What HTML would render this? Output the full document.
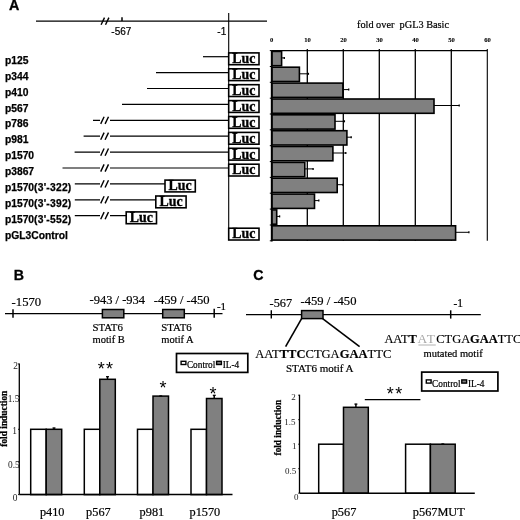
<!DOCTYPE html>
<html><head><meta charset="utf-8"><title>Figure</title>
<style>html,body{margin:0;padding:0;background:#fff;}svg{display:block;}.s{font-family:"Liberation Sans", Arial, sans-serif;}.t{font-family:"Liberation Serif", "Times New Roman", serif;}.b{font-weight:bold;}</style></head><body>
<svg width="520" height="520" viewBox="0 0 520 520">
<rect width="520" height="520" fill="#fff"/>
<text x="9.1" y="10.4" class="s b" font-size="14.30" text-anchor="start" fill="#000" stroke="#000" stroke-width="0.30" >A</text>
<line x1="36.0" y1="21.1" x2="267.0" y2="21.1" stroke="#000" stroke-width="1.25"/>
<line x1="101.1" y1="24.8" x2="104.5" y2="17.6" stroke="#000" stroke-width="1.40"/>
<line x1="105.5" y1="24.8" x2="108.9" y2="17.6" stroke="#000" stroke-width="1.40"/>
<line x1="122.0" y1="17.2" x2="122.0" y2="21.0" stroke="#000" stroke-width="1.50"/>
<text x="111.3" y="34.6" class="s" font-size="10.00" text-anchor="start" fill="#000" stroke="#000" stroke-width="0.20" >-567</text>
<text x="217.3" y="34.6" class="s" font-size="10.00" text-anchor="start" fill="#000" stroke="#000" stroke-width="0.20" >-1</text>
<line x1="228.7" y1="13.0" x2="228.7" y2="240.0" stroke="#000" stroke-width="1.10"/>
<text x="4.9" y="63.8" class="s b" font-size="10.30" text-anchor="start" fill="#000" stroke="#000" stroke-width="0.25" >p125</text>
<line x1="203.0" y1="56.7" x2="228.7" y2="56.7" stroke="#000" stroke-width="1.20"/>
<rect x="228.7" y="52.9" width="30.3" height="11.8" fill="#fff" stroke="#000" stroke-width="1.60"/>
<text x="243.9" y="63.1" class="t b" font-size="13.90" text-anchor="middle" fill="#000" stroke="#000" stroke-width="0.30" >Luc</text>
<text x="4.9" y="79.7" class="s b" font-size="10.30" text-anchor="start" fill="#000" stroke="#000" stroke-width="0.25" >p344</text>
<line x1="156.0" y1="72.6" x2="228.7" y2="72.6" stroke="#000" stroke-width="1.20"/>
<rect x="228.7" y="68.8" width="30.3" height="11.8" fill="#fff" stroke="#000" stroke-width="1.60"/>
<text x="243.9" y="79.0" class="t b" font-size="13.90" text-anchor="middle" fill="#000" stroke="#000" stroke-width="0.30" >Luc</text>
<text x="4.9" y="95.6" class="s b" font-size="10.30" text-anchor="start" fill="#000" stroke="#000" stroke-width="0.25" >p410</text>
<line x1="147.0" y1="88.5" x2="228.7" y2="88.5" stroke="#000" stroke-width="1.20"/>
<rect x="228.7" y="84.7" width="30.3" height="11.8" fill="#fff" stroke="#000" stroke-width="1.60"/>
<text x="243.9" y="94.9" class="t b" font-size="13.90" text-anchor="middle" fill="#000" stroke="#000" stroke-width="0.30" >Luc</text>
<text x="4.9" y="111.5" class="s b" font-size="10.30" text-anchor="start" fill="#000" stroke="#000" stroke-width="0.25" >p567</text>
<line x1="122.0" y1="104.4" x2="228.7" y2="104.4" stroke="#000" stroke-width="1.20"/>
<rect x="228.7" y="100.6" width="30.3" height="11.8" fill="#fff" stroke="#000" stroke-width="1.60"/>
<text x="243.9" y="110.8" class="t b" font-size="13.90" text-anchor="middle" fill="#000" stroke="#000" stroke-width="0.30" >Luc</text>
<text x="4.9" y="127.4" class="s b" font-size="10.30" text-anchor="start" fill="#000" stroke="#000" stroke-width="0.25" >p786</text>
<line x1="93.0" y1="120.3" x2="228.7" y2="120.3" stroke="#000" stroke-width="1.20"/>
<rect x="100" y="118.8" width="10" height="3" fill="#fff"/>
<line x1="100.7" y1="123.9" x2="104.1" y2="116.7" stroke="#000" stroke-width="1.40"/>
<line x1="105.1" y1="123.9" x2="108.5" y2="116.7" stroke="#000" stroke-width="1.40"/>
<rect x="228.7" y="116.5" width="30.3" height="11.8" fill="#fff" stroke="#000" stroke-width="1.60"/>
<text x="243.9" y="126.7" class="t b" font-size="13.90" text-anchor="middle" fill="#000" stroke="#000" stroke-width="0.30" >Luc</text>
<text x="4.9" y="143.3" class="s b" font-size="10.30" text-anchor="start" fill="#000" stroke="#000" stroke-width="0.25" >p981</text>
<line x1="83.6" y1="136.2" x2="228.7" y2="136.2" stroke="#000" stroke-width="1.20"/>
<rect x="100" y="134.7" width="10" height="3" fill="#fff"/>
<line x1="100.7" y1="139.8" x2="104.1" y2="132.6" stroke="#000" stroke-width="1.40"/>
<line x1="105.1" y1="139.8" x2="108.5" y2="132.6" stroke="#000" stroke-width="1.40"/>
<rect x="228.7" y="132.4" width="30.3" height="11.8" fill="#fff" stroke="#000" stroke-width="1.60"/>
<text x="243.9" y="142.6" class="t b" font-size="13.90" text-anchor="middle" fill="#000" stroke="#000" stroke-width="0.30" >Luc</text>
<text x="4.9" y="159.2" class="s b" font-size="10.30" text-anchor="start" fill="#000" stroke="#000" stroke-width="0.25" >p1570</text>
<line x1="74.6" y1="152.1" x2="228.7" y2="152.1" stroke="#000" stroke-width="1.20"/>
<rect x="100" y="150.6" width="10" height="3" fill="#fff"/>
<line x1="100.7" y1="155.7" x2="104.1" y2="148.5" stroke="#000" stroke-width="1.40"/>
<line x1="105.1" y1="155.7" x2="108.5" y2="148.5" stroke="#000" stroke-width="1.40"/>
<rect x="228.7" y="148.3" width="30.3" height="11.8" fill="#fff" stroke="#000" stroke-width="1.60"/>
<text x="243.9" y="158.5" class="t b" font-size="13.90" text-anchor="middle" fill="#000" stroke="#000" stroke-width="0.30" >Luc</text>
<text x="4.9" y="175.1" class="s b" font-size="10.30" text-anchor="start" fill="#000" stroke="#000" stroke-width="0.25" >p3867</text>
<line x1="62.5" y1="168.0" x2="228.7" y2="168.0" stroke="#000" stroke-width="1.20"/>
<rect x="100" y="166.5" width="10" height="3" fill="#fff"/>
<line x1="100.7" y1="171.6" x2="104.1" y2="164.4" stroke="#000" stroke-width="1.40"/>
<line x1="105.1" y1="171.6" x2="108.5" y2="164.4" stroke="#000" stroke-width="1.40"/>
<rect x="228.7" y="164.2" width="30.3" height="11.8" fill="#fff" stroke="#000" stroke-width="1.60"/>
<text x="243.9" y="174.4" class="t b" font-size="13.90" text-anchor="middle" fill="#000" stroke="#000" stroke-width="0.30" >Luc</text>
<text x="4.9" y="191.0" class="s b" font-size="10.30" text-anchor="start" fill="#000" stroke="#000" stroke-width="0.25" >p1570<tspan letter-spacing="0.22">(3'-322)</tspan></text>
<line x1="74.8" y1="183.9" x2="165.0" y2="183.9" stroke="#000" stroke-width="1.20"/>
<rect x="100" y="182.4" width="10" height="3" fill="#fff"/>
<line x1="100.7" y1="187.5" x2="104.1" y2="180.3" stroke="#000" stroke-width="1.40"/>
<line x1="105.1" y1="187.5" x2="108.5" y2="180.3" stroke="#000" stroke-width="1.40"/>
<rect x="165.0" y="180.1" width="30.3" height="11.8" fill="#fff" stroke="#000" stroke-width="1.60"/>
<text x="180.2" y="190.3" class="t b" font-size="13.90" text-anchor="middle" fill="#000" stroke="#000" stroke-width="0.30" >Luc</text>
<text x="4.9" y="206.9" class="s b" font-size="10.30" text-anchor="start" fill="#000" stroke="#000" stroke-width="0.25" >p1570<tspan letter-spacing="0.22">(3'-392)</tspan></text>
<line x1="74.8" y1="199.8" x2="155.8" y2="199.8" stroke="#000" stroke-width="1.20"/>
<rect x="100" y="198.3" width="10" height="3" fill="#fff"/>
<line x1="100.7" y1="203.4" x2="104.1" y2="196.2" stroke="#000" stroke-width="1.40"/>
<line x1="105.1" y1="203.4" x2="108.5" y2="196.2" stroke="#000" stroke-width="1.40"/>
<rect x="155.8" y="196.0" width="30.3" height="11.8" fill="#fff" stroke="#000" stroke-width="1.60"/>
<text x="171.0" y="206.2" class="t b" font-size="13.90" text-anchor="middle" fill="#000" stroke="#000" stroke-width="0.30" >Luc</text>
<text x="4.9" y="222.8" class="s b" font-size="10.30" text-anchor="start" fill="#000" stroke="#000" stroke-width="0.25" >p1570<tspan letter-spacing="0.22">(3'-552)</tspan></text>
<line x1="74.8" y1="215.7" x2="126.2" y2="215.7" stroke="#000" stroke-width="1.20"/>
<rect x="100" y="214.2" width="10" height="3" fill="#fff"/>
<line x1="100.7" y1="219.3" x2="104.1" y2="212.1" stroke="#000" stroke-width="1.40"/>
<line x1="105.1" y1="219.3" x2="108.5" y2="212.1" stroke="#000" stroke-width="1.40"/>
<rect x="126.2" y="211.9" width="30.3" height="11.8" fill="#fff" stroke="#000" stroke-width="1.60"/>
<text x="141.4" y="222.1" class="t b" font-size="13.90" text-anchor="middle" fill="#000" stroke="#000" stroke-width="0.30" >Luc</text>
<text x="4.9" y="238.7" class="s b" font-size="10.30" text-anchor="start" fill="#000" stroke="#000" stroke-width="0.25" >pGL3Control</text>
<rect x="228.7" y="228.2" width="30.3" height="11.8" fill="#fff" stroke="#000" stroke-width="1.60"/>
<text x="243.9" y="238.4" class="t b" font-size="13.90" text-anchor="middle" fill="#000" stroke="#000" stroke-width="0.30" >Luc</text>
<text x="403.0" y="28.3" class="t" font-size="10.30" text-anchor="middle" fill="#000" stroke="#000" stroke-width="0.20" >fold over  pGL3 Basic</text>
<text x="271.6" y="42.1" class="t b" font-size="6.60" text-anchor="middle" fill="#000" stroke="#000" stroke-width="0.10" >0</text>
<line x1="307.3" y1="49.1" x2="307.3" y2="240.8" stroke="#000" stroke-width="1.30"/>
<text x="307.6" y="42.1" class="t b" font-size="6.60" text-anchor="middle" fill="#000" stroke="#000" stroke-width="0.10" >10</text>
<line x1="343.3" y1="49.1" x2="343.3" y2="240.8" stroke="#000" stroke-width="1.30"/>
<text x="343.6" y="42.1" class="t b" font-size="6.60" text-anchor="middle" fill="#000" stroke="#000" stroke-width="0.10" >20</text>
<line x1="379.3" y1="49.1" x2="379.3" y2="240.8" stroke="#000" stroke-width="1.30"/>
<text x="379.6" y="42.1" class="t b" font-size="6.60" text-anchor="middle" fill="#000" stroke="#000" stroke-width="0.10" >30</text>
<line x1="415.3" y1="49.1" x2="415.3" y2="240.8" stroke="#000" stroke-width="1.30"/>
<text x="415.6" y="42.1" class="t b" font-size="6.60" text-anchor="middle" fill="#000" stroke="#000" stroke-width="0.10" >40</text>
<line x1="451.3" y1="49.1" x2="451.3" y2="240.8" stroke="#000" stroke-width="1.30"/>
<text x="451.6" y="42.1" class="t b" font-size="6.60" text-anchor="middle" fill="#000" stroke="#000" stroke-width="0.10" >50</text>
<line x1="487.3" y1="49.1" x2="487.3" y2="240.8" stroke="#000" stroke-width="1.10"/>
<text x="487.6" y="42.1" class="t b" font-size="6.60" text-anchor="middle" fill="#000" stroke="#000" stroke-width="0.10" >60</text>
<line x1="271.3" y1="50.6" x2="487.3" y2="50.6" stroke="#000" stroke-width="1.10"/>
<rect x="271.7" y="51.4" width="9.9" height="14.3" fill="#808080" stroke="#000" stroke-width="1.60"/>
<line x1="281.6" y1="57.9" x2="284.3" y2="57.9" stroke="#000" stroke-width="1.00"/>
<line x1="284.3" y1="56.9" x2="284.3" y2="58.9" stroke="#000" stroke-width="1.30"/>
<line x1="269.8" y1="50.6" x2="271.3" y2="50.6" stroke="#000" stroke-width="1.00"/>
<rect x="271.7" y="67.2" width="27.7" height="14.3" fill="#808080" stroke="#000" stroke-width="1.60"/>
<line x1="299.4" y1="73.8" x2="308.4" y2="73.8" stroke="#000" stroke-width="1.00"/>
<line x1="308.4" y1="72.8" x2="308.4" y2="74.8" stroke="#000" stroke-width="1.30"/>
<line x1="269.8" y1="66.5" x2="271.3" y2="66.5" stroke="#000" stroke-width="1.00"/>
<rect x="271.7" y="83.1" width="71.2" height="14.3" fill="#808080" stroke="#000" stroke-width="1.60"/>
<line x1="342.9" y1="89.6" x2="348.7" y2="89.6" stroke="#000" stroke-width="1.00"/>
<line x1="348.7" y1="88.6" x2="348.7" y2="90.6" stroke="#000" stroke-width="1.30"/>
<line x1="269.8" y1="82.3" x2="271.3" y2="82.3" stroke="#000" stroke-width="1.00"/>
<rect x="271.7" y="99.0" width="162.3" height="14.3" fill="#808080" stroke="#000" stroke-width="1.60"/>
<line x1="434.0" y1="105.5" x2="459.2" y2="105.5" stroke="#000" stroke-width="1.00"/>
<line x1="459.2" y1="104.5" x2="459.2" y2="106.5" stroke="#000" stroke-width="1.30"/>
<line x1="269.8" y1="98.2" x2="271.3" y2="98.2" stroke="#000" stroke-width="1.00"/>
<rect x="271.7" y="114.8" width="63.3" height="14.3" fill="#808080" stroke="#000" stroke-width="1.60"/>
<line x1="335.0" y1="121.3" x2="344.4" y2="121.3" stroke="#000" stroke-width="1.00"/>
<line x1="344.4" y1="120.3" x2="344.4" y2="122.3" stroke="#000" stroke-width="1.30"/>
<line x1="269.8" y1="114.0" x2="271.3" y2="114.0" stroke="#000" stroke-width="1.00"/>
<rect x="271.7" y="130.7" width="75.2" height="14.3" fill="#808080" stroke="#000" stroke-width="1.60"/>
<line x1="346.9" y1="137.2" x2="351.2" y2="137.2" stroke="#000" stroke-width="1.00"/>
<line x1="351.2" y1="136.2" x2="351.2" y2="138.2" stroke="#000" stroke-width="1.30"/>
<line x1="269.8" y1="129.8" x2="271.3" y2="129.8" stroke="#000" stroke-width="1.00"/>
<rect x="271.7" y="146.5" width="61.2" height="14.3" fill="#808080" stroke="#000" stroke-width="1.60"/>
<line x1="332.9" y1="153.0" x2="345.8" y2="153.0" stroke="#000" stroke-width="1.00"/>
<line x1="345.8" y1="152.0" x2="345.8" y2="154.0" stroke="#000" stroke-width="1.30"/>
<line x1="269.8" y1="145.7" x2="271.3" y2="145.7" stroke="#000" stroke-width="1.00"/>
<rect x="271.7" y="162.4" width="33.1" height="14.3" fill="#808080" stroke="#000" stroke-width="1.60"/>
<line x1="304.8" y1="168.9" x2="313.1" y2="168.9" stroke="#000" stroke-width="1.00"/>
<line x1="313.1" y1="167.9" x2="313.1" y2="169.9" stroke="#000" stroke-width="1.30"/>
<line x1="269.8" y1="161.6" x2="271.3" y2="161.6" stroke="#000" stroke-width="1.00"/>
<rect x="271.7" y="178.2" width="65.5" height="14.3" fill="#808080" stroke="#000" stroke-width="1.60"/>
<line x1="337.2" y1="184.7" x2="342.9" y2="184.7" stroke="#000" stroke-width="1.00"/>
<line x1="342.9" y1="183.7" x2="342.9" y2="185.7" stroke="#000" stroke-width="1.30"/>
<line x1="269.8" y1="177.4" x2="271.3" y2="177.4" stroke="#000" stroke-width="1.00"/>
<rect x="271.7" y="194.1" width="42.8" height="14.3" fill="#808080" stroke="#000" stroke-width="1.60"/>
<line x1="314.5" y1="200.6" x2="318.8" y2="200.6" stroke="#000" stroke-width="1.00"/>
<line x1="318.8" y1="199.6" x2="318.8" y2="201.6" stroke="#000" stroke-width="1.30"/>
<line x1="269.8" y1="193.2" x2="271.3" y2="193.2" stroke="#000" stroke-width="1.00"/>
<rect x="271.7" y="209.9" width="5.0" height="14.3" fill="#808080" stroke="#000" stroke-width="1.60"/>
<line x1="276.7" y1="216.4" x2="279.6" y2="216.4" stroke="#000" stroke-width="1.00"/>
<line x1="279.6" y1="215.4" x2="279.6" y2="217.4" stroke="#000" stroke-width="1.30"/>
<line x1="269.8" y1="209.1" x2="271.3" y2="209.1" stroke="#000" stroke-width="1.00"/>
<rect x="271.7" y="225.8" width="183.9" height="14.3" fill="#808080" stroke="#000" stroke-width="1.60"/>
<line x1="455.6" y1="232.3" x2="468.9" y2="232.3" stroke="#000" stroke-width="1.00"/>
<line x1="468.9" y1="231.3" x2="468.9" y2="233.3" stroke="#000" stroke-width="1.30"/>
<line x1="269.8" y1="225.0" x2="271.3" y2="225.0" stroke="#000" stroke-width="1.00"/>
<line x1="269.8" y1="240.8" x2="271.3" y2="240.8" stroke="#000" stroke-width="1.00"/>
<line x1="271.8" y1="50.6" x2="271.8" y2="241.5" stroke="#000" stroke-width="1.80"/>
<text x="13.8" y="280.1" class="s b" font-size="14.20" text-anchor="start" fill="#000" stroke="#000" stroke-width="0.30" >B</text>
<line x1="5.0" y1="313.6" x2="222.5" y2="313.6" stroke="#000" stroke-width="1.30"/>
<line x1="13.0" y1="309.2" x2="13.0" y2="317.8" stroke="#000" stroke-width="1.50"/>
<line x1="214.2" y1="308.8" x2="214.2" y2="317.8" stroke="#000" stroke-width="1.50"/>
<text x="11.6" y="305.6" class="t" font-size="12.70" text-anchor="start" fill="#000" stroke="#000" stroke-width="0.20" >-1570</text>
<text x="89.5" y="304.2" class="t" font-size="12.50" text-anchor="start" fill="#000" stroke="#000" stroke-width="0.20" >-943 / -934</text>
<text x="153.7" y="304.1" class="t" font-size="12.60" text-anchor="start" fill="#000" stroke="#000" stroke-width="0.20" >-459 / -450</text>
<text x="216.9" y="309.9" class="t" font-size="11.00" text-anchor="start" fill="#000" stroke="#000" stroke-width="0.20" >-1</text>
<rect x="102.4" y="309.5" width="21.4" height="8.3" fill="#808080" stroke="#000" stroke-width="1.50"/>
<rect x="162.7" y="309.5" width="21.6" height="8.3" fill="#808080" stroke="#000" stroke-width="1.50"/>
<text x="92.5" y="330.5" class="t" font-size="10.80" text-anchor="start" fill="#000" stroke="#000" stroke-width="0.20" >STAT6</text>
<text x="92.5" y="343.0" class="t" font-size="10.50" text-anchor="start" fill="#000" stroke="#000" stroke-width="0.20" >motif B</text>
<text x="161.3" y="330.5" class="t" font-size="10.80" text-anchor="start" fill="#000" stroke="#000" stroke-width="0.20" >STAT6</text>
<text x="161.3" y="343.0" class="t" font-size="10.50" text-anchor="start" fill="#000" stroke="#000" stroke-width="0.20" >motif A</text>
<rect x="176.5" y="353.5" width="71.3" height="18.9" fill="#fff" stroke="#000" stroke-width="1.70"/>
<rect x="181.1" y="361.3" width="4.8" height="3.2" fill="#fff" stroke="#000" stroke-width="1.40"/>
<text x="186.9" y="368.4" class="t" font-size="9.30" text-anchor="start" fill="#000" stroke="#000" stroke-width="0.20" >Control</text>
<rect x="216.6" y="361.3" width="4.8" height="3.2" fill="#808080" stroke="#000" stroke-width="1.40"/>
<text x="222.7" y="368.4" class="t" font-size="9.30" text-anchor="start" fill="#000" stroke="#000" stroke-width="0.20" >IL-4</text>
<line x1="18.0" y1="494.6" x2="19.3" y2="494.6" stroke="#000" stroke-width="0.90"/>
<line x1="18.0" y1="462.0" x2="19.3" y2="462.0" stroke="#000" stroke-width="0.90"/>
<line x1="18.0" y1="429.3" x2="19.3" y2="429.3" stroke="#000" stroke-width="0.90"/>
<line x1="18.0" y1="396.7" x2="19.3" y2="396.7" stroke="#000" stroke-width="0.90"/>
<line x1="18.0" y1="364.0" x2="19.3" y2="364.0" stroke="#000" stroke-width="0.90"/>
<text x="18.0" y="368.9" class="t" font-size="9.40" text-anchor="end" fill="#1c1c1c" stroke="#1c1c1c" stroke-width="0.00" >2</text>
<text x="19.4" y="402.1" class="t" font-size="9.40" text-anchor="end" fill="#1c1c1c" stroke="#1c1c1c" stroke-width="0.00" >1.5</text>
<text x="17.0" y="433.7" class="t" font-size="9.40" text-anchor="end" fill="#1c1c1c" stroke="#1c1c1c" stroke-width="0.00" >1</text>
<text x="19.8" y="467.7" class="t" font-size="9.40" text-anchor="end" fill="#1c1c1c" stroke="#1c1c1c" stroke-width="0.00" >0.5</text>
<text x="17.5" y="500.8" class="t" font-size="9.40" text-anchor="end" fill="#1c1c1c" stroke="#1c1c1c" stroke-width="0.00" >0</text>
<rect x="30.7" y="429.3" width="15.5" height="65.3" fill="#fff" stroke="#000" stroke-width="1.50"/>
<rect x="46.2" y="429.3" width="15.5" height="65.3" fill="#808080" stroke="#000" stroke-width="1.50"/>
<line x1="54.0" y1="429.3" x2="54.0" y2="427.7" stroke="#000" stroke-width="1.50"/>
<line x1="52.5" y1="428.0" x2="55.5" y2="428.0" stroke="#000" stroke-width="1.20"/>
<text x="52.2" y="516.1" class="t" font-size="12.30" text-anchor="middle" fill="#000" stroke="#000" stroke-width="0.20" >p410</text>
<rect x="84.3" y="429.3" width="15.5" height="65.3" fill="#fff" stroke="#000" stroke-width="1.50"/>
<rect x="99.8" y="379.3" width="15.5" height="115.3" fill="#808080" stroke="#000" stroke-width="1.50"/>
<line x1="107.5" y1="379.3" x2="107.5" y2="376.4" stroke="#000" stroke-width="1.50"/>
<line x1="106.0" y1="376.7" x2="109.0" y2="376.7" stroke="#000" stroke-width="1.20"/>
<text x="98.4" y="516.1" class="t" font-size="12.30" text-anchor="middle" fill="#000" stroke="#000" stroke-width="0.20" >p567</text>
<rect x="137.5" y="429.3" width="15.5" height="65.3" fill="#fff" stroke="#000" stroke-width="1.50"/>
<rect x="153.0" y="396.1" width="15.5" height="98.5" fill="#808080" stroke="#000" stroke-width="1.50"/>
<line x1="160.8" y1="396.1" x2="160.8" y2="395.7" stroke="#000" stroke-width="1.50"/>
<line x1="159.2" y1="396.0" x2="162.2" y2="396.0" stroke="#000" stroke-width="1.20"/>
<text x="151.9" y="516.1" class="t" font-size="12.30" text-anchor="middle" fill="#000" stroke="#000" stroke-width="0.20" >p981</text>
<rect x="191.0" y="429.3" width="15.5" height="65.3" fill="#fff" stroke="#000" stroke-width="1.50"/>
<rect x="206.5" y="398.5" width="15.5" height="96.1" fill="#808080" stroke="#000" stroke-width="1.50"/>
<line x1="214.2" y1="398.5" x2="214.2" y2="395.0" stroke="#000" stroke-width="1.50"/>
<line x1="212.8" y1="395.3" x2="215.8" y2="395.3" stroke="#000" stroke-width="1.20"/>
<text x="204.9" y="516.1" class="t" font-size="12.30" text-anchor="middle" fill="#000" stroke="#000" stroke-width="0.20" >p1570</text>
<line x1="19.3" y1="363.5" x2="19.3" y2="494.6" stroke="#000" stroke-width="1.30"/>
<line x1="19.3" y1="494.6" x2="232.5" y2="494.6" stroke="#000" stroke-width="1.50"/>
<text transform="translate(7.2,418.7) rotate(-90)" class="t b" font-size="9.4" text-anchor="middle" stroke="#000" stroke-width="0.25">fold induction</text>
<text x="106.1" y="374.7" class="s" font-size="18.00" text-anchor="middle" fill="#000" stroke="#000" stroke-width="0.00" letter-spacing="1.4">**</text>
<text x="163.0" y="393.9" class="s" font-size="18.00" text-anchor="middle" fill="#000" stroke="#000" stroke-width="0.00" >*</text>
<text x="212.9" y="399.9" class="s" font-size="18.00" text-anchor="middle" fill="#000" stroke="#000" stroke-width="0.00" >*</text>
<text x="253.3" y="280.2" class="s b" font-size="14.20" text-anchor="start" fill="#000" stroke="#000" stroke-width="0.30" >C</text>
<line x1="246.0" y1="314.6" x2="480.8" y2="314.6" stroke="#000" stroke-width="1.30"/>
<line x1="271.3" y1="310.3" x2="271.3" y2="318.6" stroke="#000" stroke-width="1.40"/>
<line x1="450.7" y1="310.3" x2="450.7" y2="318.6" stroke="#000" stroke-width="1.50"/>
<text x="269.6" y="307.0" class="t" font-size="12.30" text-anchor="start" fill="#000" stroke="#000" stroke-width="0.20" >-567</text>
<text x="300.5" y="305.0" class="t" font-size="12.60" text-anchor="start" fill="#000" stroke="#000" stroke-width="0.20" >-459 / -450</text>
<text x="453.5" y="306.6" class="t" font-size="11.50" text-anchor="start" fill="#000" stroke="#000" stroke-width="0.20" >-1</text>
<rect x="301.6" y="310.6" width="21.4" height="8.0" fill="#808080" stroke="#000" stroke-width="1.50"/>
<line x1="301.6" y1="318.6" x2="285.6" y2="346.6" stroke="#000" stroke-width="1.60"/>
<line x1="322.6" y1="318.6" x2="359.6" y2="346.6" stroke="#000" stroke-width="1.60"/>
<text x="255.3" y="358.0" class="t" font-size="12.55" stroke="#000" stroke-width="0.15">AAT<tspan class="b">TTC</tspan>CTGA<tspan class="b">GAA</tspan>TTC</text>
<text x="384.4" y="342.7" class="t" font-size="12.45" stroke="#000" stroke-width="0.15">AAT<tspan class="b">T</tspan><tspan fill="#a8a8a8" stroke="none" dx="0.6" font-size="13.4" letter-spacing="1.0">AT</tspan><tspan dx="0.4">C</tspan>TGA<tspan class="b">GAA</tspan>TTC</text>
<line x1="418.4" y1="345.0" x2="435.8" y2="345.0" stroke="#a0a0a0" stroke-width="0.80"/>
<text x="286.0" y="372.0" class="t" font-size="11.00" text-anchor="start" fill="#000" stroke="#000" stroke-width="0.20" >STAT6 motif A</text>
<text x="423.5" y="357.4" class="t" font-size="10.50" text-anchor="start" fill="#000" stroke="#000" stroke-width="0.20" >mutated motif</text>
<rect x="421.7" y="372.1" width="76.2" height="18.9" fill="#fff" stroke="#000" stroke-width="1.70"/>
<rect x="426.3" y="379.9" width="4.8" height="3.2" fill="#fff" stroke="#000" stroke-width="1.40"/>
<text x="432.1" y="387.0" class="t" font-size="9.30" text-anchor="start" fill="#000" stroke="#000" stroke-width="0.20" >Control</text>
<rect x="461.8" y="379.9" width="4.8" height="3.2" fill="#808080" stroke="#000" stroke-width="1.40"/>
<text x="467.9" y="387.0" class="t" font-size="9.30" text-anchor="start" fill="#000" stroke="#000" stroke-width="0.20" >IL-4</text>
<line x1="298.2" y1="493.2" x2="299.5" y2="493.2" stroke="#000" stroke-width="0.90"/>
<line x1="298.2" y1="468.7" x2="299.5" y2="468.7" stroke="#000" stroke-width="0.90"/>
<line x1="298.2" y1="444.2" x2="299.5" y2="444.2" stroke="#000" stroke-width="0.90"/>
<line x1="298.2" y1="419.7" x2="299.5" y2="419.7" stroke="#000" stroke-width="0.90"/>
<line x1="298.2" y1="395.2" x2="299.5" y2="395.2" stroke="#000" stroke-width="0.90"/>
<text x="295.7" y="399.8" class="t" font-size="9.00" text-anchor="end" fill="#1c1c1c" stroke="#1c1c1c" stroke-width="0.00" >2</text>
<text x="295.4" y="424.8" class="t" font-size="9.00" text-anchor="end" fill="#1c1c1c" stroke="#1c1c1c" stroke-width="0.00" >1.5</text>
<text x="296.4" y="449.0" class="t" font-size="9.00" text-anchor="end" fill="#1c1c1c" stroke="#1c1c1c" stroke-width="0.00" >1</text>
<text x="296.2" y="474.0" class="t" font-size="9.00" text-anchor="end" fill="#1c1c1c" stroke="#1c1c1c" stroke-width="0.00" >0.5</text>
<text x="298.6" y="500.0" class="t" font-size="9.00" text-anchor="end" fill="#1c1c1c" stroke="#1c1c1c" stroke-width="0.00" >0</text>
<rect x="318.7" y="444.2" width="24.8" height="49.0" fill="#fff" stroke="#000" stroke-width="1.50"/>
<rect x="343.5" y="407.3" width="24.8" height="85.9" fill="#808080" stroke="#000" stroke-width="1.50"/>
<line x1="355.9" y1="407.3" x2="355.9" y2="403.8" stroke="#000" stroke-width="1.50"/>
<line x1="354.4" y1="404.1" x2="357.4" y2="404.1" stroke="#000" stroke-width="1.20"/>
<text x="344.0" y="516.2" class="t" font-size="12.30" text-anchor="middle" fill="#000" stroke="#000" stroke-width="0.20" >p567</text>
<rect x="405.6" y="444.2" width="24.8" height="49.0" fill="#fff" stroke="#000" stroke-width="1.50"/>
<rect x="430.4" y="444.2" width="24.8" height="49.0" fill="#808080" stroke="#000" stroke-width="1.50"/>
<line x1="442.8" y1="444.2" x2="442.8" y2="443.7" stroke="#000" stroke-width="1.50"/>
<line x1="441.3" y1="444.0" x2="444.3" y2="444.0" stroke="#000" stroke-width="1.20"/>
<text x="438.8" y="516.2" class="t" font-size="12.30" text-anchor="middle" fill="#000" stroke="#000" stroke-width="0.20" >p567MUT</text>
<line x1="299.5" y1="394.7" x2="299.5" y2="493.2" stroke="#000" stroke-width="1.30"/>
<line x1="299.5" y1="493.2" x2="474.8" y2="493.2" stroke="#000" stroke-width="1.50"/>
<text transform="translate(280.7,427.7) rotate(-90)" class="t b" font-size="9.3" text-anchor="middle" stroke="#000" stroke-width="0.25">fold induction</text>
<line x1="364.8" y1="399.6" x2="420.4" y2="399.6" stroke="#000" stroke-width="1.10"/>
<text x="395.2" y="399.9" class="s" font-size="18.00" text-anchor="middle" fill="#000" stroke="#000" stroke-width="0.00" letter-spacing="1.4">**</text>
</svg></body></html>
